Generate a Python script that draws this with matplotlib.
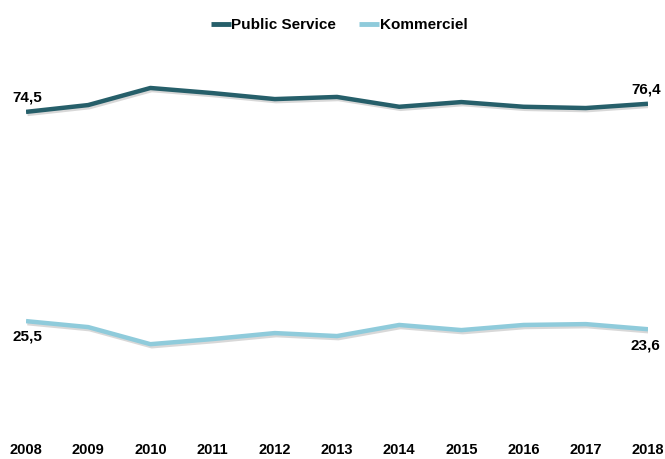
import matplotlib
matplotlib.use("Agg")
import matplotlib.pyplot as plt
import matplotlib.patheffects as pe

years = [2008, 2009, 2010, 2011, 2012, 2013, 2014, 2015, 2016, 2017, 2018]
public_service = [74.5, 76.1, 80.1, 78.9, 77.5, 78.0, 75.7, 76.8, 75.7, 75.4, 76.4]
kommerciel = [25.5, 24.1, 20.1, 21.3, 22.7, 22.0, 24.6, 23.4, 24.6, 24.8, 23.6]

plt.rcParams['font.family'] = ['Liberation Sans Narrow', 'Liberation Sans', 'DejaVu Sans']

dark = "#265f6a"
light = "#8fcbdb"

fig = plt.figure(figsize=(6.65, 4.59), dpi=100)
ax = fig.add_axes([26/665, 29/459, 622/665, 427/459])

shadow = [pe.SimpleLineShadow(offset=(1, -1.5), alpha=0.3, shadow_color="gray"), pe.Normal()]
ax.plot(years, public_service, color=dark, lw=3.2, label="Public Service",
        path_effects=shadow, solid_capstyle="butt")
ax.plot(years, kommerciel, color=light, lw=3.2, label="Kommerciel",
        path_effects=shadow, solid_capstyle="butt")

ax.set_xlim(2008, 2018)
ax.set_ylim(0, 100)
ax.set_yticks([])
ax.set_xticks(years)
ax.set_xticklabels([str(y) for y in years], fontsize=10.5, fontweight="bold")
ax.tick_params(axis="x", length=0, pad=9)
for s in ax.spines.values():
    s.set_visible(False)
ax.set_facecolor("none")

def fmt(v):
    return f"{v:.1f}".replace(".", ",")

ax.annotate(fmt(public_service[0]), (years[0], public_service[0]), xytext=(-10, 5),
            textcoords="offset points", fontsize=11, fontweight="bold", ha="left", va="bottom")
ax.annotate(fmt(public_service[-1]), (years[-1], public_service[-1]), xytext=(9, 5),
            textcoords="offset points", fontsize=11, fontweight="bold", ha="right", va="bottom")
ax.annotate(fmt(kommerciel[0]), (years[0], kommerciel[0]), xytext=(-10, -6),
            textcoords="offset points", fontsize=11, fontweight="bold", ha="left", va="top")
ax.annotate(fmt(kommerciel[-1]), (years[-1], kommerciel[-1]), xytext=(9, -7),
            textcoords="offset points", fontsize=11, fontweight="bold", ha="right", va="top")

leg = fig.legend(loc="upper center", bbox_to_anchor=(0.51, 0.99), ncol=2, frameon=False,
                 prop={"size": 11, "weight": "bold"}, handlelength=1.3, handletextpad=0.05,
                 columnspacing=1.5)
for l in leg.get_lines():
    l.set_path_effects([])
    l.set_linewidth(3.5)

fig.savefig("out.png", dpi=100)
